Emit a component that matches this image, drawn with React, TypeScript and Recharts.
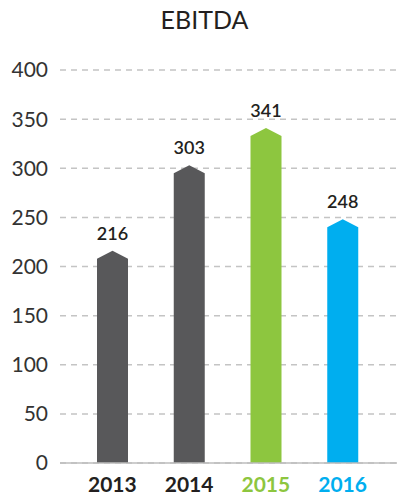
import { BarChart, Bar, XAxis, YAxis, CartesianGrid, LabelList, Cell } from "recharts";

const years = ["2013", "2014", "2015", "2016"];
const ebitda = [216, 303, 341, 248];
const yTicks = [0, 50, 100, 150, 200, 250, 300, 350, 400];

const barColors = ["#58585a", "#58585a", "#8dc63f", "#00aeef"];
const labelColors = ["#231f20", "#231f20", "#8dc63f", "#00aeef"];

const data = years.map((year, i) => ({ year, value: ebitda[i] }));

// bar with a pointed top, tip sits at the value
const ArrowBar = (props: any) => {
  const { x, y, width, height, fill } = props;
  if (!height) return null;
  const shoulder = 8;
  const d = `M${x},${y + height} L${x},${y + shoulder} L${x + width / 2},${y} L${x + width},${y + shoulder} L${x + width},${y + height} Z`;
  return <path d={d} fill={fill} />;
};

const YearTick = (props: any) => {
  const { x, y, payload, index } = props;
  return (
    <text
      x={x}
      y={y}
      dy="0.71em"
      textAnchor="middle"
      fill={labelColors[index]}
      fontSize={21}
      fontWeight={700}
      fontFamily="Lato"
    >
      {payload.value}
    </text>
  );
};

export default function App() {
  return (
    <div style={{ position: "absolute", left: 0, top: 0, width: 409, height: 500, background: "#fff" }}>
      <div
        style={{
          position: "absolute",
          left: 0,
          top: 4,
          width: 409,
          textAlign: "center",
          fontFamily: "Lato",
          fontSize: 25,
          color: "#231f20",
        }}
      >
        EBITDA
      </div>
      <BarChart
        width={409}
        height={500}
        data={data}
        margin={{ top: 70, right: 12, left: 0, bottom: 0 }}
        barSize={31}
      >
        <CartesianGrid vertical={false} strokeDasharray="6 5" stroke="#c4c4c4" strokeWidth={1.5} />
        <XAxis
          dataKey="year"
          height={37}
          padding={{ left: 14, right: 16 }}
          tickSize={0}
          tickMargin={14}
          axisLine={{ stroke: "#bdbdbd", strokeWidth: 1.5 }}
          tick={<YearTick />}
        />
        <YAxis
          width={60}
          domain={[0, 400]}
          ticks={yTicks}
          interval={0}
          tickSize={0}
          tickMargin={12}
          axisLine={false}
          tick={{ fill: "#333", fontSize: 21, fontFamily: "Lato" }}
        />
        <Bar dataKey="value" shape={<ArrowBar />} isAnimationActive={false}>
          {data.map((d, i) => (
            <Cell key={d.year} fill={barColors[i]} />
          ))}
          <LabelList
            dataKey="value"
            position="top"
            offset={11}
            fill="#231f20"
            fontSize={18}
            fontWeight={600}
            fontFamily="Lato"
          />
        </Bar>
      </BarChart>
    </div>
  );
}
